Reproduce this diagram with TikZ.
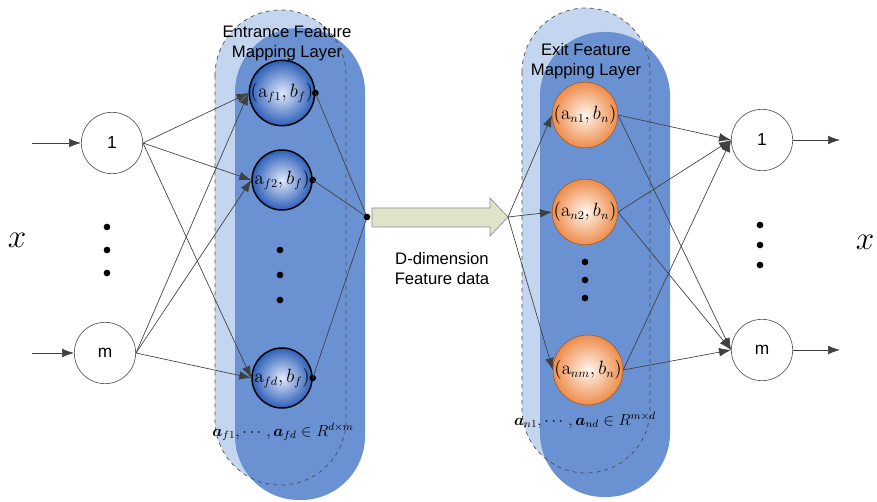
\documentclass[tikz,border=0pt]{standalone}
\usepackage{amsmath}
\usepackage{amssymb}
\usepackage[no-math]{fontspec}
\setsansfont{Liberation Sans}
\usepackage{xcolor}
\usetikzlibrary{arrows.meta}

\definecolor{layerlight}{RGB}{196,213,240}
\definecolor{layerdark}{RGB}{106,145,210}
\definecolor{ballblue}{RGB}{45,95,185}
\definecolor{balllite}{RGB}{225,233,250}
\definecolor{orangedark}{RGB}{238,140,75}
\definecolor{orangelite}{RGB}{255,246,238}
\definecolor{arrowfill}{RGB}{222,228,202}

\begin{document}
\begin{tikzpicture}[x=0.75pt,y=0.75pt,yscale=-1]
\tikzset{
  unit/.style={circle, draw=black!65, line width=0.5pt, minimum size=46pt, inner sep=0pt, font=\sffamily\fontsize{13}{14}\selectfont},
  entball/.style={circle, draw=black, line width=1.1pt, minimum size=45pt, inner sep=0pt, inner color=balllite, outer color=ballblue, font=\fontsize{13.5}{15}\selectfont},
  extball/.style={circle, draw=orange!60!black, line width=0.3pt, minimum size=48pt, inner sep=0pt, inner color=orangelite, outer color=orangedark, font=\fontsize{13.5}{15}\selectfont},
  wire/.style={draw=black!75, line width=0.5pt},
  feed/.style={wire, -{Latex[length=9pt,width=6.5pt]}},
  bigdot/.style={circle, fill=black, inner sep=0pt, minimum size=5pt},
  vdot/.style={circle, fill=black, inner sep=0pt, minimum size=5pt},
  title/.style={align=center, font=\sffamily\fontsize{12.5}{15}\selectfont},
}
\useasboundingbox (0,0) rectangle (877,502);

% entrance mapping layer
\fill[layerlight, rounded corners=49pt] (215,10) rectangle (346,485);
\fill[layerdark, rounded corners=48pt] (235,28) rectangle (365,500);
\draw[black!70, dashed, line width=0.5pt, rounded corners=49pt] (215,10) rectangle (346,485);

% exit mapping layer
\fill[layerlight, rounded corners=48pt] (522,8) rectangle (650,473);
\fill[layerdark, rounded corners=48pt] (540,32) rectangle (670,497);
\draw[black!70, dashed, line width=0.5pt, rounded corners=48pt] (522,8) rectangle (650,473);

\draw (287,43) node [title] {Entrance Feature\\Mapping Layer};
\draw (586,61) node [title] {Exit Feature\\Mapping Layer};

% input units
\draw (112,143) node [unit] (in1) {1};
\draw (105,353) node [unit] (inm) {m};
\coordinate (src1) at (32,143);
\coordinate (srcm) at (32,353);
\draw[feed] (src1) -- (in1);
\draw[feed] (srcm) -- (inm);
\draw (107,227) node [vdot] {};
\draw (107,250) node [vdot] {};
\draw (107,273) node [vdot] {};
\draw (17,240) node [font=\fontsize{26}{28}\selectfont] {$x$};

% entrance feature nodes
\draw (282,93) node [entball] (f1) {$(\mathrm{a}_{f1},b_f)$};
\draw (282,180) node [entball] (f2) {$\mathrm{a}_{f2},b_f)$};
\draw (282,378) node [entball] (fd) {$\mathrm{a}_{fd},b_f)$};
\draw (280,250) node [vdot] {};
\draw (280,275) node [vdot] {};
\draw (280,300) node [vdot] {};
\draw (283,432) node [font=\fontsize{12}{14}\selectfont] {$\boldsymbol{a}_{f1},\cdots,\boldsymbol{a}_{fd}\in R^{d\times m}$};

\foreach \f in {f1,f2,fd} {
  \draw[feed] (in1.east) -- (\f.west);
  \draw[feed] (inm.east) -- (\f.west);
}

% collect the entrance outputs
\coordinate (join) at (367,217);
\foreach \f in {f1,f2,fd} {
  \draw (\f.east) node [bigdot] {};
  \draw[wire] (\f.east) -- (join);
}
\draw (join) node [bigdot] {};

% feature data arrow
\draw[black!45, fill=arrowfill, line width=0.5pt] (372,208) -- (490,208) -- (490,198) -- (508,217) -- (490,236) -- (490,227) -- (372,227) -- cycle;
\coordinate (fan) at (508,217);
\draw (442,269) node [title] {D-dimension\\Feature data};

% exit feature nodes
\draw (585,115) node [extball] (n1) {$(\mathrm{a}_{n1},b_n)$};
\draw (585,212) node [extball] (n2) {$(\mathrm{a}_{n2},b_n)$};
\draw (588,370) node [extball] (nm) {$(\mathrm{a}_{nm},b_n)$};
\draw (585,262) node [vdot] {};
\draw (585,280) node [vdot] {};
\draw (585,298) node [vdot] {};
\draw (585,420) node [font=\fontsize{12}{14}\selectfont] {$\boldsymbol{a}_{n1},\cdots,\boldsymbol{a}_{nd}\in R^{m\times d}$};

\foreach \n in {n1,n2,nm} {
  \draw[feed] (fan) -- (\n.west);
}

% output units
\draw (762,140) node [unit] (out1) {1};
\draw (762,350) node [unit] (outm) {m};
\foreach \n in {n1,n2,nm} {
  \draw[feed] (\n.east) -- (out1.west);
  \draw[feed] (\n.east) -- (outm.west);
}
\coordinate (dst1) at (840,140);
\coordinate (dstm) at (840,350);
\draw[feed] (out1) -- (dst1);
\draw[feed] (outm) -- (dstm);
\draw (760,225) node [vdot] {};
\draw (760,245) node [vdot] {};
\draw (760,265) node [vdot] {};
\draw (865,242) node [font=\fontsize{26}{28}\selectfont] {$x$};

\end{tikzpicture}
\end{document}
